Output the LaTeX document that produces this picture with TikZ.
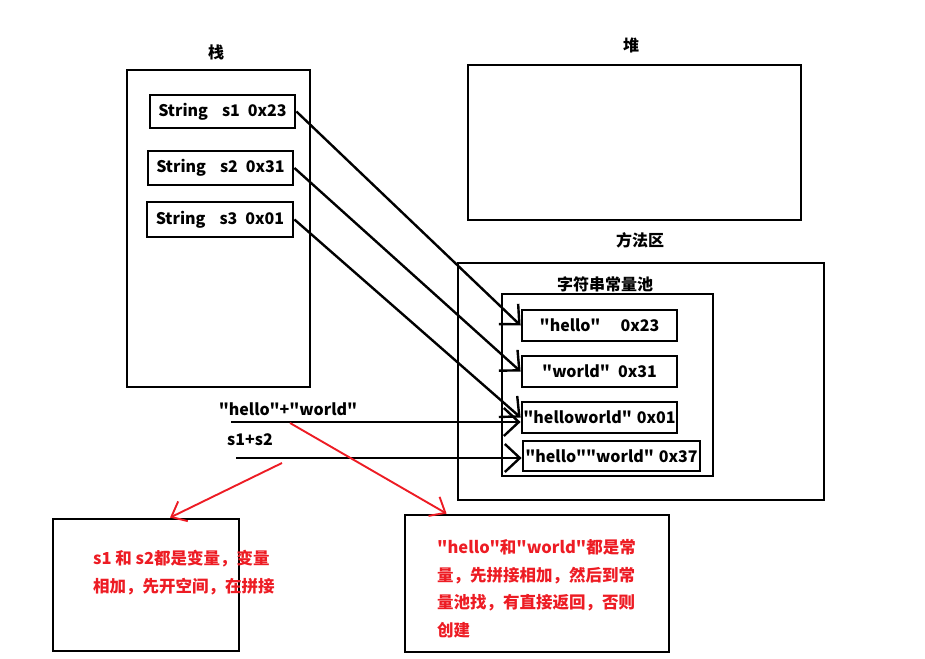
\documentclass[tikz,border=0pt]{standalone}
\usepackage{fontspec}
\newfontfamily\cjkfont{Noto Sans CJK SC}
\usetikzlibrary{arrows.meta}
\definecolor{paintred}{RGB}{237,28,36}
\begin{document}
\begin{tikzpicture}[x=1pt,y=-1pt,
  box/.style={draw,line width=2.8pt,inner sep=0pt},
  lbl/.style={font=\cjkfont\fontsize{16}{18}\selectfont\bfseries,inner sep=0pt},
  arr/.style={line width=2.4pt,-{Straight Barb[length=15pt,width=28pt,line width=2.4pt]}},
  rarr/.style={paintred,line width=1.9pt,-{Straight Barb[length=13pt,width=22pt,line width=1.9pt]}},
  note/.style={text=paintred,font=\cjkfont\fontsize{16.5}{27.7}\selectfont\bfseries,align=left,anchor=north west,inner sep=0pt}]
\useasboundingbox (0,0) rectangle (925,658);
% stack
\node[lbl] (stacklbl) at (216,52) {栈};
\node[box,minimum width=183pt,minimum height=317pt] (stack) at (218.5,228.5) {};
\node[box,lbl,minimum width=145pt,minimum height=33pt] (s1) at (222.5,111.5) {String\hspace{14pt}s1\hspace{8pt}0x23};
\node[box,lbl,minimum width=145pt,minimum height=34pt] (s2) at (220.5,168) {String\hspace{14pt}s2\hspace{8pt}0x31};
\node[box,lbl,minimum width=146pt,minimum height=35pt] (s3) at (220,219.5) {String\hspace{14pt}s3\hspace{8pt}0x01};
% heap
\node[lbl] (heaplbl) at (631,45) {堆};
\node[box,minimum width=333pt,minimum height=155pt] (heap) at (634.5,142.5) {};
% method area
\node[lbl] (malbl) at (640,240) {方法区};
\node[box,minimum width=366pt,minimum height=237pt] (ma) at (641,381.5) {};
\node[lbl] (poollbl) at (605,284) {字符串常量池};
\node[box,minimum width=211pt,minimum height=182pt] (pool) at (607.5,385) {};
\node[box,lbl,minimum width=155pt,minimum height=31pt] (hello) at (599.5,325.5) {"hello"\hspace{20pt}0x23};
\node[box,lbl,minimum width=155pt,minimum height=31pt] (world) at (599.5,371.5) {"world"\hspace{8pt}0x31};
\node[box,lbl,minimum width=155pt,minimum height=31pt] (hw) at (599.5,417.5) {"helloworld"\hspace{5pt}0x01};
\node[box,lbl,minimum width=177pt,minimum height=30pt] (hhw) at (611.5,456) {"hello""world"\hspace{5pt}0x37};
% expressions
\node[lbl] (e1) at (288,409) {"hello"+"world"};
\node[lbl] (e2) at (250,440) {s1+s2};
\coordinate (e1s) at (231,422);
\coordinate (e2s) at (236,458);
% arrows
\draw[arr] (s1.east) -- (hello.west);
\draw[arr] (s2.east) -- (world.west);
\draw[arr] (s3.east) -- (hw.west);
\draw[arr] (e1s) -- (hw.west |- e1s);
\draw[arr] (e2s) -- (hhw.west |- e2s);
% notes
\node[box,minimum width=186pt,minimum height=132pt] (lbox) at (146,585) {};
\node[box,minimum width=264pt,minimum height=137pt] (rbox) at (537,583.5) {};
\node[note] (ln) at (93,550) {s1 和 s2都是变量，变量\\相加，先开空间，在拼接};
\node[note] (rn) at (437,539) {"hello"和"world"都是常\\量，先拼接相加，然后到常\\量池找，有直接返回，否则\\创建};
\coordinate (r1s) at (282,463);
\coordinate (r2s) at (290,423);
\draw[rarr] (r1s) -- ([xshift=24pt]lbox.north);
\draw[rarr] (r2s) -- ([xshift=43pt]rbox.north west);
\end{tikzpicture}
\end{document}
